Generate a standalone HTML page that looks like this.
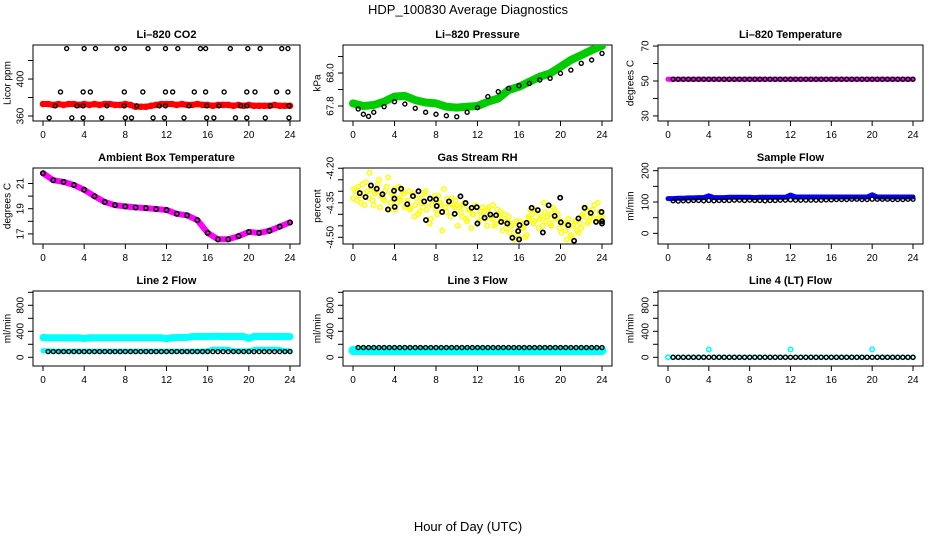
<!DOCTYPE html>
<html><head><meta charset="utf-8">
<style>
body{margin:0;background:#fff;}
svg{display:block;font-family:"Liberation Sans",sans-serif;}
</style></head>
<body>
<svg id="chart" width="936" height="540" viewBox="0 0 936 540">
<text x="468" y="14" text-anchor="middle" font-size="13">HDP_100830  Average Diagnostics</text>
<text x="468" y="531" text-anchor="middle" font-size="13">Hour of Day (UTC)</text>
</svg>
<script>
const xTicks=[0,4,8,12,16,20,24];
const H49=[0,0.5,1,1.5,2,2.5,3,3.5,4,4.5,5,5.5,6,6.5,7,7.5,8,8.5,9,9.5,10,10.5,11,11.5,12,12.5,13,13.5,14,14.5,15,15.5,16,16.5,17,17.5,18,18.5,19,19.5,20,20.5,21,21.5,22,22.5,23,23.5,24];
const HB=[0.5,1,1.5,2,2.5,3,3.5,4,4.5,5,5.5,6,6.5,7,7.5,8,8.5,9,9.5,10,10.5,11,11.5,12,12.5,13,13.5,14,14.5,15,15.5,16,16.5,17,17.5,18,18.5,19,19.5,20,20.5,21,21.5,22,22.5,23,23.5,24];
const H25=[0,1,2,3,4,5,6,7,8,9,10,11,12,13,14,15,16,17,18,19,20,21,22,23,24];
// CO2
const co2Red=[373,373,372,373,372,373,373,372,373,372,373,372,373,373,372,372,373,372,370,370,370,371,372,373,373,373,372,373,372,372,373,372,372,371,372,372,372,371,372,371,372,371,371,371,371,372,371,371,371];
const co2BlackX=[2.3,4,5.1,7.2,7.9,10.2,11.9,13.1,15.3,15.8,18.2,19.9,21.1,23.2,23.8,1.7,3.9,4.6,7.9,9.7,11.9,12.6,14.7,15.8,17.6,19.8,20.6,22.7,23.8,0.6,2.8,3.9,5.7,8,8.6,10.7,11.8,13.7,15.9,16.6,18.7,19.8,21.6,23.9,1.2,3.3,3.9,6.2,7.9,9.1,11.3,11.9,14.2,15.9,17.1,19.2,19.8,22.1,23.9];
const co2BlackY=[433,433,433,433,433,433,433,433,433,433,433,433,433,433,433,386,386,386,386,386,386,386,386,386,386,386,386,386,386,358,358,358,358,358,358,358,358,358,358,358,358,358,358,358,371,371,371,371,371,371,371,371,371,371,371,371,371,371,371];
// Pressure
const presGreen=[67.816,67.80,67.806,67.826,67.857,67.861,67.836,67.821,67.816,67.796,67.790,67.796,67.80,67.826,67.846,67.897,67.917,67.947,67.978,67.998,68.038,68.079,68.109,68.139,68.165];
const presBlackX=[0.5,1,1.5,2,3,4,5,6,7,8,9,10,11,12,13,14,15,16,17,18,19,20,21,22,23,24];
const presBlackY=[67.782,67.75,67.737,67.762,67.796,67.826,67.812,67.786,67.762,67.75,67.741,67.735,67.762,67.79,67.857,67.887,67.907,67.923,67.937,67.958,67.968,67.998,68.018,68.059,68.079,68.119];
// Temperature
const tempMag=[51,51,51,51,51,51,51,51,51,51,51,51,51,51,51,51,51,51,51,51,51,51,51,51,51];
const tempBlack=[51,51,51,51,51,51,51,51,51,51,51,51,51,51,51,51,51,51,51,51,51,51,51,51,51,51,51,51,51,51,51,51,51,51,51,51,51,51,51,51,51,51,51,51,51,51,51,51];
// Ambient
const ambient=[21.81,21.26,21.13,20.88,20.50,19.99,19.53,19.28,19.18,19.10,19.05,18.98,18.90,18.60,18.47,18.09,17.08,16.57,16.57,16.82,17.15,17.08,17.25,17.58,17.91];
// RH
const rhYellowX=[0,0.25,0.5,0.75,1,1.25,1.5,1.75,2,2.25,2.5,2.75,3,3.25,3.5,3.75,4,4.25,4.5,4.75,5,5.25,5.5,5.75,6,6.25,6.5,6.75,7,7.25,7.5,7.75,8,8.25,8.5,8.75,9,9.25,9.5,9.75,10,10.25,10.5,10.75,11,11.25,11.5,11.75,12,12.25,12.5,12.75,13,13.25,13.5,13.75,14,14.25,14.5,14.75,15,15.25,15.5,15.75,16,16.25,16.5,16.75,17,17.25,17.5,17.75,18,18.25,18.5,18.75,19,19.25,19.5,19.75,20,20.25,20.5,20.75,21,21.25,21.5,21.75,22,22.25,22.5,22.75,23,23.25,23.5,23.75,24];
const rhYellowY=[-4.33,-4.30,-4.28,-4.35,-4.31,-4.26,-4.33,-4.29,-4.36,-4.30,-4.25,-4.32,-4.34,-4.28,-4.38,-4.31,-4.29,-4.35,-4.33,-4.30,-4.37,
-4.34,-4.38,-4.31,-4.36,-4.40,-4.33,-4.37,-4.30,-4.35,-4.42,-4.34,-4.38,-4.32,-4.36,-4.29,-4.39,-4.35,-4.33,-4.37,-4.36,
-4.37,-4.41,-4.35,-4.43,-4.38,-4.40,-4.36,-4.44,-4.39,-4.37,-4.42,-4.38,-4.41,-4.36,-4.44,-4.40,-4.39,-4.43,-4.46,-4.41,
-4.45,-4.48,-4.43,-4.50,-4.46,-4.44,-4.49,-4.42,
-4.40,-4.43,-4.38,-4.42,-4.45,-4.39,-4.41,-4.44,-4.37,-4.42,-4.40,-4.43,
-4.44,-4.47,-4.42,-4.49,-4.45,-4.43,-4.48,-4.46,
-4.41,-4.38,-4.43,-4.40,-4.36,-4.42,-4.39,-4.41];
const rhYellowX2=[0.1,0.35,0.6,0.9,1.1,1.4,1.6,1.9,2.1,2.4,2.6,2.9,3.1,3.4,3.6,3.9,4.1,4.4,4.6,4.9,5.1,5.4,5.6,5.9,6.1,6.4,6.6,6.9,7.1,7.4,7.6,7.9,8.1,8.4,8.6,8.9,9.1,9.4,9.6,9.9,10.1,10.4,10.6,10.9,11.1,11.4,11.6,11.9,12.1,12.4,12.6,12.9,13.1,13.4,13.6,13.9,14.1,14.4,14.6,14.9,15.1,15.4,15.6,15.9,16.1,16.4,16.6,16.9,17.1,17.4,17.6,17.9,18.1,18.4,18.6,18.9,19.1,19.4,19.6,19.9,20.1,20.4,20.6,20.9,21.1,21.4,21.6,21.9,22.1,22.4,22.6,22.9,23.1,23.4,23.6,23.9];
const rhYellowY2=[-4.29,-4.34,-4.32,-4.27,-4.36,-4.30,-4.22,-4.34,-4.31,-4.27,-4.37,-4.33,-4.30,-4.24,-4.35,-4.32,-4.38,-4.28,-4.34,-4.31,-4.36,-4.30,-4.37,-4.41,-4.33,-4.39,-4.35,-4.31,-4.38,-4.44,-4.36,-4.32,-4.40,-4.35,-4.47,-4.37,-4.33,-4.41,-4.36,-4.34,-4.45,-4.39,-4.36,-4.42,-4.38,-4.46,-4.40,-4.37,-4.43,-4.41,-4.39,-4.45,-4.37,-4.42,-4.45,-4.38,-4.41,-4.47,-4.40,-4.43,-4.48,-4.44,-4.51,-4.47,-4.43,-4.46,-4.50,-4.41,-4.38,-4.44,-4.39,-4.46,-4.41,-4.35,-4.43,-4.40,-4.45,-4.38,-4.42,-4.46,-4.48,-4.44,-4.51,-4.45,-4.50,-4.43,-4.47,-4.44,-4.40,-4.37,-4.44,-4.41,-4.38,-4.43,-4.35,-4.40];
const rhBlackX=[0.65,1.21,1.73,2.29,2.84,3.37,3.95,3.99,4.02,4.64,5.23,5.78,6.31,6.86,7.03,7.42,8.0,8.07,8.59,9.25,9.80,10.36,10.85,11.44,11.93,11.99,12.68,13.24,13.79,14.28,14.87,15.36,15.92,16.05,16.01,16.73,17.22,17.81,18.30,18.86,19.44,19.97,20.03,20.75,21.31,21.73,22.32,22.91,23.43,23.95,24.0,24.0];
const rhBlackY=[-4.308,-4.325,-4.275,-4.289,-4.313,-4.379,-4.298,-4.332,-4.368,-4.289,-4.356,-4.321,-4.300,-4.344,-4.425,-4.332,-4.335,-4.364,-4.39,-4.344,-4.398,-4.322,-4.351,-4.372,-4.369,-4.44,-4.415,-4.401,-4.404,-4.433,-4.440,-4.502,-4.473,-4.447,-4.509,-4.437,-4.372,-4.382,-4.479,-4.361,-4.407,-4.328,-4.435,-4.447,-4.515,-4.418,-4.372,-4.394,-4.433,-4.390,-4.43,-4.44];
// Sample flow
const sampleBlue=[111,111,112,112,113,113,114,114,120,114,114,114,115,115,115,115,115,114,115,115,115,115,115,115,122,116,116,116,116,116,116,116,116,116,116,116,116,116,116,116,123,116,116,116,116,116,116,116,116];
const sampleBlack=[104,103,104,104,105,105,104,105,104,105,105,105,106,106,105,106,105,105,104,105,105,106,106,107,106,106,106,106,106,106,107,107,108,108,108,109,109,108,108,109,109,109,109,108,108,108,109,109];
// Line 2
const line2CyanHi=[305,300,300,300,300,298,298,300,288,300,300,300,300,300,300,300,300,300,300,300,300,300,300,300,285,302,304,305,306,318,320,320,320,322,322,320,320,320,320,320,290,320,320,320,320,320,320,320,318];
const line2CyanLo=[100,100,95,95,95,95,95,95,95,95,95,95,95,95,95,95,95,95,95,95,95,95,95,95,95,95,95,95,95,95,95,95,100,125,125,125,125,100,100,100,100,120,125,125,125,125,120,100,100];
const line2Black=[88,88,88,88,88,88,88,88,88,88,88,88,88,88,88,88,88,88,88,88,88,88,88,88,88,88,88,88,88,88,88,88,88,88,88,88,88,88,88,88,88,88,88,88,88,88,88,88];
// Line 3
const line3Cyan=[105,105,105,105,105,105,105,105,105,105,105,105,105,105,105,105,105,105,105,105,105,105,105,105,105,105,105,105,105,105,105,105,105,105,105,105,105,105,105,105,105,105,105,105,105,105,105,105,105];
const line3Black=[150,150,150,150,150,150,150,150,150,150,150,150,150,150,150,150,150,150,150,150,150,150,150,150,150,150,150,150,150,150,150,150,150,150,150,150,150,150,150,150,150,150,150,150,150,150,150,150];
// Line 4
const line4Cyan=[0,0,0,0,0,0,0,0,120,0,0,0,0,0,0,0,0,0,0,0,0,0,0,0,120,0,0,0,0,0,0,0,0,0,0,0,0,0,0,0,120,0,0,0,0,0,0,0,0];
const line4Black=[0,0,0,0,0,0,0,0,0,0,0,0,0,0,0,0,0,0,0,0,0,0,0,0,0,0,0,0,0,0,0,0,0,0,0,0,0,0,0,0,0,0,0,0,0,0,0,0];

const NS='http://www.w3.org/2000/svg';
const svg=document.getElementById('chart');
function mk(tag,attrs,parent){const e=document.createElementNS(NS,tag);for(const k in attrs)e.setAttribute(k,attrs[k]);(parent||svg).appendChild(e);return e;}

const cols=[{x0:33,x1:300,ty:8},{x0:343,x1:612,ty:318},{x0:658,x1:923,ty:631}];
const rows=[{y0:45,y1:121},{y0:168,y1:244},{y0:291,y1:366}];

function panel(name,title,ylabel,c,r,vmin,vmax,ticks,labels){
  const C=cols[c],R=rows[r];
  const g=mk('g',{});
  
  
  const sx=h=>C.x0+10+h/24*(C.x1-C.x0-20);
  const sy=v=>R.y1-(v-vmin)/(vmax-vmin)*(R.y1-R.y0);
  const t=mk('text',{x:(C.x0+C.x1)/2,y:R.y0-7,'text-anchor':'middle','font-size':11,'font-weight':'bold'},g);
  t.textContent=title;
  
  
  const yl=mk('text',{x:C.ty,y:(R.y0+R.y1)/2,'text-anchor':'middle','font-size':10,transform:`rotate(-90 ${C.ty} ${(R.y0+R.y1)/2})`,'dominant-baseline':'central'},g);
  yl.textContent=ylabel;
  
  
  const xa=mk('g',{},g);
  
  
  mk('line',{x1:sx(0),x2:sx(24),y1:R.y1,y2:R.y1,stroke:'#000'},xa);
  xTicks.forEach(h=>{mk('line',{x1:sx(h),x2:sx(h),y1:R.y1,y2:R.y1+5,stroke:'#000'},xa);
    const l=mk('text',{x:sx(h),y:R.y1+17,'text-anchor':'middle','font-size':10},xa);l.textContent=h;});
  const ya=mk('g',{},g);
  
  
  mk('line',{x1:C.x0,x2:C.x0,y1:sy(ticks[0]),y2:sy(ticks[ticks.length-1]),stroke:'#000'},ya);
  ticks.forEach((v,i)=>{mk('line',{x1:C.x0-5,x2:C.x0,y1:sy(v),y2:sy(v),stroke:'#000'},ya);
    if(labels[i]!==''){const x=C.x0-12;const l=mk('text',{x:x,y:sy(v),'text-anchor':'middle','font-size':10,'dominant-baseline':'central',transform:`rotate(-90 ${x} ${sy(v)})`},ya);l.textContent=labels[i];}});
  const box=mk('rect',{x:C.x0,y:R.y0,width:C.x1-C.x0,height:R.y1-R.y0,fill:'none',stroke:'#000'},g);
  
  
  const clipId='clip-'+name;
  const cp=mk('clipPath',{id:clipId},g);mk('rect',{x:C.x0,y:R.y0,width:C.x1-C.x0,height:R.y1-R.y0},cp);
  const marks=mk('g',{'clip-path':`url(#${clipId})`},g);
  return {sx,sy,marks,name};
}
function band(p,xs,ys,color,w,label){
  const pts=xs.map((x,i)=>p.sx(x).toFixed(1)+','+p.sy(ys[i]).toFixed(1)).join(' ');
  const pl=mk('polyline',{points:pts,fill:'none',stroke:color,'stroke-width':w,'stroke-linejoin':'round','stroke-linecap':'round'},p.marks);
  
  
}
function pts(p,xs,ys,color,r,sw,label){
  const g=mk('g',{},p.marks);
  
  
  xs.forEach((x,i)=>{const c=mk('circle',{cx:p.sx(x),cy:p.sy(ys[i]),r:r,fill:'none',stroke:color,'stroke-width':sw},g);
    
    });
}

let p;
p=panel('co2','Li\u2013820 CO2','Licor ppm',0,0,354.6,436.8,[360,380,400,420],['360','','400','']);
band(p,H49,co2Red,'#ff0000',6,'red');pts(p,H49,co2Red,'#ff0000',2.3,2,'red');
pts(p,co2BlackX,co2BlackY,'#000',2,1.4,'black');

p=panel('pressure','Li\u2013820 Pressure','kPa',1,0,67.709,68.17,[67.8,67.9,68.0,68.1],['67.8','','68.0','']);
band(p,H25,presGreen,'#00cc00',8,'green');pts(p,H25,presGreen,'#00cc00',2.3,2,'green');
pts(p,presBlackX,presBlackY,'#000',2,1.4,'black');

p=panel('temperature','Li\u2013820 Temperature','degrees C',2,0,27.1,70.6,[30,40,50,60,70],['30','','50','','70']);
band(p,H25,tempMag,'#ff00ff',5,'magenta');pts(p,HB,tempBlack,'#000',2,1.4,'black');

p=panel('ambient','Ambient Box Temperature','degrees C',0,1,16.2,22.23,[17,18,19,20,21],['17','','19','','21']);
band(p,H25,ambient,'#ff00ff',6,'magenta');pts(p,H25,ambient,'#000',2.2,1.6,'black');

p=panel('rh','Gas Stream RH','percent',1,1,-4.529,-4.199,[-4.2,-4.25,-4.3,-4.35,-4.4,-4.45,-4.5],['-4.20','','','-4.35','','','-4.50']);
pts(p,rhYellowX,rhYellowY,'#ffff00',2.2,1.5,'yellow');
pts(p,rhYellowX2,rhYellowY2,'#ffff00',2.2,1.5,'yellow-2');
pts(p,rhBlackX,rhBlackY,'#000',2.1,1.7,'black');

p=panel('sample-flow','Sample Flow','ml/min',2,1,-34,208.6,[0,50,100,150,200],['0','','100','','200']);
band(p,H49,sampleBlue,'#0000ff',5,'blue');pts(p,HB,sampleBlack,'#000',2,1.4,'black');

p=panel('line2','Line 2 Flow','ml/min',0,2,-134,1020,[0,200,400,600,800,1000],['0','','400','','800','']);
band(p,H49,line2CyanHi,'#00ffff',7,'cyan-high');band(p,H49,line2CyanLo,'#00ffff',5,'cyan-low');
pts(p,HB,line2Black,'#000',2,1.4,'black');

p=panel('line3','Line 3 Flow','ml/min',1,2,-134,1020,[0,200,400,600,800,1000],['0','','400','','800','']);
band(p,H49,line3Cyan,'#00ffff',9,'cyan');pts(p,HB,line3Black,'#000',2,1.4,'black');

p=panel('line4','Line 4 (LT) Flow','ml/min',2,2,-134,1020,[0,200,400,600,800,1000],['0','','400','','800','']);
pts(p,H49,line4Cyan,'#00ffff',2.2,1.6,'cyan');pts(p,HB,line4Black,'#000',2,1.4,'black');
</script>
</body></html>
